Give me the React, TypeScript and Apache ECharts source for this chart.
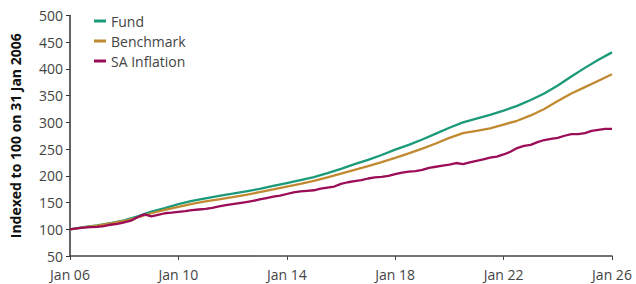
import React, { useEffect, useRef } from "react";
import * as echarts from "echarts";

// Semi-annual observation points (decimal years) for Fund & Benchmark
const halfYears: number[] = [
  2006.0, 2006.5, 2007.0, 2007.5, 2008.0, 2008.5, 2009.0, 2009.5, 2010.0, 2010.5,
  2011.0, 2011.5, 2012.0, 2012.5, 2013.0, 2013.5, 2014.0, 2014.5, 2015.0, 2015.5,
  2016.0, 2016.5, 2017.0, 2017.5, 2018.0, 2018.5, 2019.0, 2019.5, 2020.0, 2020.5,
  2021.0, 2021.5, 2022.0, 2022.5, 2023.0, 2023.5, 2024.0, 2024.5, 2025.0, 2025.5,
  2026.0,
];

const fundValues: number[] = [
  100, 104, 107.5, 111.5, 116.5, 124, 133, 139.5, 147, 153,
  158, 162.5, 166.5, 171, 175.5, 181, 186.5, 192, 197.5, 205,
  213, 222, 230, 239, 249, 258, 268, 279, 290, 300,
  307, 314, 322, 331, 342, 354, 369, 386, 402, 417,
  431,
];

const benchmarkValues: number[] = [
  100, 103.5, 107, 111, 115.5, 122, 130, 136.5, 142, 147.5,
  152, 156, 160, 164.5, 169.5, 174.5, 180, 185, 190.5, 197,
  204, 211, 218, 225.5, 233.5, 242, 251, 260.5, 271, 280,
  284, 289, 296, 303, 313, 325, 340, 354, 366, 378,
  390,
];

// Quarterly observation points for SA Inflation
const quarters: number[] = [
  2006.0, 2006.25, 2006.5, 2006.75, 2007.0, 2007.25, 2007.5, 2007.75,
  2008.0, 2008.25, 2008.5, 2008.75, 2009.0, 2009.25, 2009.5, 2009.75,
  2010.0, 2010.25, 2010.5, 2010.75, 2011.0, 2011.25, 2011.5, 2011.75,
  2012.0, 2012.25, 2012.5, 2012.75, 2013.0, 2013.25, 2013.5, 2013.75,
  2014.0, 2014.25, 2014.5, 2014.75, 2015.0, 2015.25, 2015.5, 2015.75,
  2016.0, 2016.25, 2016.5, 2016.75, 2017.0, 2017.25, 2017.5, 2017.75,
  2018.0, 2018.25, 2018.5, 2018.75, 2019.0, 2019.25, 2019.5, 2019.75,
  2020.0, 2020.25, 2020.5, 2020.75, 2021.0, 2021.25, 2021.5, 2021.75,
  2022.0, 2022.25, 2022.5, 2022.75, 2023.0, 2023.25, 2023.5, 2023.75,
  2024.0, 2024.25, 2024.5, 2024.75, 2025.0, 2025.25, 2025.5, 2025.75,
  2026.0,
];

const inflationValues: number[] = [
  100, 101.5, 103, 104, 104.5, 106, 108.5, 110,
  113, 116, 123, 128, 124, 127, 130, 131,
  132.5, 134, 136, 137, 138, 140, 143, 145,
  147, 149, 151, 153, 156, 158.5, 161, 163,
  166, 169, 171, 172, 173, 176, 178, 180,
  185, 188, 190, 192, 195, 197, 198, 200,
  203, 206, 208, 209, 211, 215, 217, 219,
  221, 224, 222, 225, 228, 231, 234, 236,
  240, 245, 252, 256, 258, 263, 267, 269,
  271, 275, 278, 278, 280, 284, 286, 288,
  288,
];

const seriesNames = ["Fund", "Benchmark", "SA Inflation"];
const seriesColors = ["#1b9a7a", "#c18a30", "#9c0d57"];
const yAxisTitle = "Indexed to 100 on 31 Jan 2006";

const pair = (xs: number[], ys: number[]) => xs.map((x, i) => [x, ys[i]]);

export default function App() {
  const ref = useRef<HTMLDivElement>(null);

  useEffect(() => {
    if (!ref.current) return;
    const chart = echarts.init(ref.current, undefined, { renderer: "svg" });
    const font = "'Open Sans', 'Noto Sans', sans-serif";
    const lineSeries = (name: string, data: number[][], color: string) => ({
      name,
      type: "line",
      data,
      showSymbol: false,
      symbol: "none",
      smooth: false,
      lineStyle: { color, width: 2.3 },
      itemStyle: { color },
    });
    chart.setOption({
      animation: false,
      textStyle: { fontFamily: font },
      grid: { left: 70, right: 24, top: 15.5, bottom: 28, containLabel: false },
      legend: {
        show: true,
        orient: "vertical",
        left: 89,
        top: 9,
        icon: "rect",
        itemWidth: 12,
        itemHeight: 3,
        itemGap: 6,
        textStyle: { color: "#444", fontSize: 14, fontFamily: font },
        data: seriesNames,
      },
      xAxis: {
        type: "value",
        min: 2006,
        max: 2026,
        interval: 4,
        axisLine: { show: true, lineStyle: { color: "#444", width: 1.5 } },
        axisTick: { show: true, length: 4, lineStyle: { color: "#444" } },
        splitLine: { show: false },
        axisLabel: {
          color: "#444",
          fontSize: 14,
          margin: 11,
          fontFamily: font,
          formatter: (v: number) => "Jan " + String(Math.round(v)).slice(2),
        },
      },
      yAxis: {
        type: "value",
        min: 50,
        max: 500,
        interval: 50,
        name: yAxisTitle,
        nameLocation: "middle",
        nameGap: 48,
        nameTextStyle: { color: "#111", fontSize: 14, fontWeight: "bold", fontFamily: font },
        axisLine: { show: true, lineStyle: { color: "#333", width: 1.5 } },
        axisTick: { show: true, length: 4, lineStyle: { color: "#333" } },
        splitLine: { show: false },
        axisLabel: { color: "#444", fontSize: 14, margin: 7, fontFamily: font },
      },
      series: [
        lineSeries(seriesNames[0], pair(halfYears, fundValues), seriesColors[0]),
        lineSeries(seriesNames[1], pair(halfYears, benchmarkValues), seriesColors[1]),
        lineSeries(seriesNames[2], pair(quarters, inflationValues), seriesColors[2]),
      ],
    });
    return () => chart.dispose();
  }, []);

  return (
    <div
      ref={ref}
      style={{ position: "fixed", left: 0, top: 0, width: 636, height: 284, background: "#fff" }}
    />
  );
}
